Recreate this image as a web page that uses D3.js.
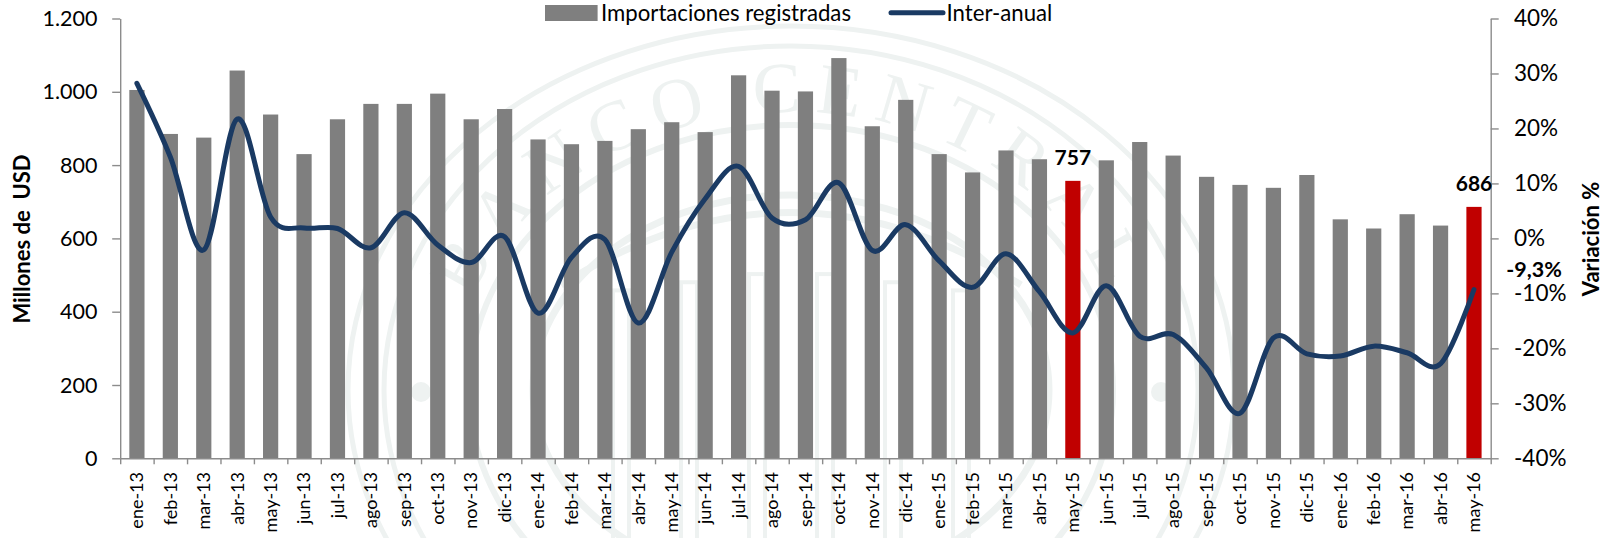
<!DOCTYPE html>
<html><head><meta charset="utf-8">
<script src="https://cdn.jsdelivr.net/npm/d3@7/dist/d3.min.js"></script>
<style>html,body{margin:0;background:#fff}svg{display:block}text{font-family:Lato,sans-serif;fill:#000}</style>
</head><body><svg id="c" width="1613" height="538"></svg>
<script>
const categories=["ene-13","feb-13","mar-13","abr-13","may-13","jun-13","jul-13","ago-13","sep-13","oct-13","nov-13","dic-13","ene-14","feb-14","mar-14","abr-14","may-14","jun-14","jul-14","ago-14","sep-14","oct-14","nov-14","dic-14","ene-15","feb-15","mar-15","abr-15","may-15","jun-15","jul-15","ago-15","sep-15","oct-15","nov-15","dic-15","ene-16","feb-16","mar-16","abr-16","may-16"];
const imports=[1005,885,875,1058,938,830,925,967,967,995,925,953,870,857,866,898,917,890,1045,1003,1001,1092,906,978,830,780,840,816,757,813,863,826,768,746,738,773,652,627,666,635,686];
const yoy=[28.2,14.8,-2.1,21.7,3.9,1.9,1.8,-1.7,4.65,-1.2,-4.4,0.3,-13.6,-3.45,-0.2,-15.4,-2.5,7.2,13.1,3.7,3.4,10.1,-2.2,2.5,-4.1,-8.9,-2.8,-9.7,-17.2,-8.6,-17.8,-17.5,-23.6,-31.8,-18.1,-21,-21.4,-19.6,-20.8,-22.8,-9.3];
const highlighted=["may-15","may-16"];
const leftTicks=[0,200,400,600,800,1000,1200];
const rightTicks=[-40,-30,-20,-10,0,10,20,30,40];
const L=120.2,R=1490.7,T=18.5,B=458.3;
const svg=d3.select("#c");
const x=d3.scaleBand().domain(categories).range([L,R]).paddingInner(0.545).paddingOuter(0.2725);
const yL=d3.scaleLinear().domain([0,1200]).range([B,T]);
const yR=d3.scaleLinear().domain([-40,40]).range([B,T]);
// watermark seal (decorative)
const wmCol="#eef2f1";
const wm=svg.append("g").attr("fill","none").attr("stroke",wmCol);
const cx=791,cy=390;
[[443,364,5],[407,344,5],[322,265,6],[258,195,7]].forEach(([rx,ry,w])=>wm.append("ellipse").attr("cx",cx).attr("cy",cy).attr("rx",rx).attr("ry",ry).attr("stroke-width",w));
svg.append("path").attr("id","wmArc").attr("fill","none").attr("d",`M${cx-338},${cy} A338,278 0 0 1 ${cx+338},${cy}`);
svg.append("text").attr("font-size",72).style("font-family","'Liberation Serif',serif").style("fill",wmCol).attr("letter-spacing",14).append("textPath").attr("href","#wmArc").attr("startOffset","50%").attr("text-anchor","middle").text("BANCO CENTRAL");
[cx-370,cx+370].forEach(p=>svg.append("circle").attr("cx",p).attr("cy",392).attr("r",10).attr("fill",wmCol));
// temple columns of the seal
const wmCols=d3.range(-170,171,68);
wm.selectAll("rect.col").data(wmCols).join("rect").attr("class","col").attr("x",d=>cx+d-8).attr("y",d=>270+Math.abs(d)*0.12).attr("width",16).attr("height",268).attr("stroke-width",4);
wm.append("path").attr("stroke-width",7).attr("d",`M${cx-230},${285} Q${cx},${140} ${cx+230},${285}`);
// bars
svg.append("g").selectAll("rect").data(categories).join("rect")
 .attr("x",d=>x(d)).attr("width",x.bandwidth())
 .attr("y",(d,i)=>yL(imports[i])).attr("height",(d,i)=>B-yL(imports[i]))
 .attr("fill",d=>highlighted.includes(d)?"#c00000":"#7f7f7f");
// axes
const axisCol="#8c8c8c";
function style(g){g.selectAll("path,line").attr("stroke",axisCol).attr("stroke-width",1.4);g.selectAll("text").remove();}
svg.append("g").attr("transform",`translate(${L},0)`).call(d3.axisLeft(yL).tickValues(leftTicks).tickSize(8).tickSizeOuter(0)).call(style);
svg.append("g").attr("transform",`translate(${R},0)`).call(d3.axisRight(yR).tickValues(rightTicks).tickSize(8).tickSizeOuter(0)).call(style);
svg.append("g").attr("transform",`translate(0,${B})`).call(d3.axisBottom(d3.scaleLinear().domain([0,categories.length]).range([L,R])).tickValues(d3.range(categories.length+1)).tickSize(6).tickSizeOuter(0)).call(style);
// tick labels
const fmt=v=>String(v).replace(/\B(?=(\d{3})+$)/g,".");
svg.append("g").selectAll("text").data(leftTicks).join("text").attr("x",97.5).attr("y",d=>yL(d)).attr("dy","0.35em").attr("text-anchor","end").attr("font-size",21.5).text(fmt);
svg.append("g").selectAll("text").data(rightTicks).join("text").attr("x",1514).attr("y",d=>yR(d)).attr("dy","0.35em").attr("font-size",22.5).text(d=>d+"%");
svg.append("g").selectAll("text").data(categories).join("text")
 .attr("transform",d=>`translate(${x(d)+x.bandwidth()/2},472) rotate(-90)`).attr("dy","0.35em").attr("text-anchor","end").attr("font-size",18).text(d=>d);
// axis titles
svg.append("text").attr("transform",`translate(22.5,239) rotate(-90)`).attr("dy","0.35em").attr("text-anchor","middle").attr("font-size",22).attr("font-weight",700).style("white-space","pre").text("Millones de  USD");
svg.append("text").attr("transform",`translate(1591,239) rotate(-90)`).attr("dy","0.35em").attr("text-anchor","middle").attr("font-size",22).attr("font-weight",700).text("Variación %");
// line
const line=d3.line().x((d,i)=>x(categories[i])+x.bandwidth()/2).y(d=>yR(d)).curve(d3.curveCardinal.tension(0));
svg.append("path").attr("d",line(yoy)).attr("fill","none").attr("stroke","#1a3a63").attr("stroke-width",5).attr("stroke-linecap","round");
// value labels
[["may-15",757],["may-16",686]].forEach(([c,v])=>{
 svg.append("text").attr("x",x(c)+x.bandwidth()/2).attr("y",yL(v)-15.5).attr("text-anchor","middle").attr("font-size",21).attr("font-weight",700).text(v);
});
svg.append("text").attr("x",1534).attr("y",277).attr("text-anchor","middle").attr("font-size",21.5).attr("font-weight",700).text("-9,3%");
// legend
svg.append("rect").attr("x",545).attr("y",5).attr("width",52.6).attr("height",16).attr("fill","#7f7f7f");
svg.append("text").attr("x",601).attr("y",13).attr("dy","0.35em").attr("font-size",22.2).text("Importaciones registradas");
svg.append("line").attr("x1",891).attr("x2",943).attr("y1",12.7).attr("y2",12.7).attr("stroke","#1a3a63").attr("stroke-width",5).attr("stroke-linecap","round");
svg.append("text").attr("x",946.5).attr("y",13).attr("dy","0.35em").attr("font-size",22.2).text("Inter-anual");
</script></body></html>
